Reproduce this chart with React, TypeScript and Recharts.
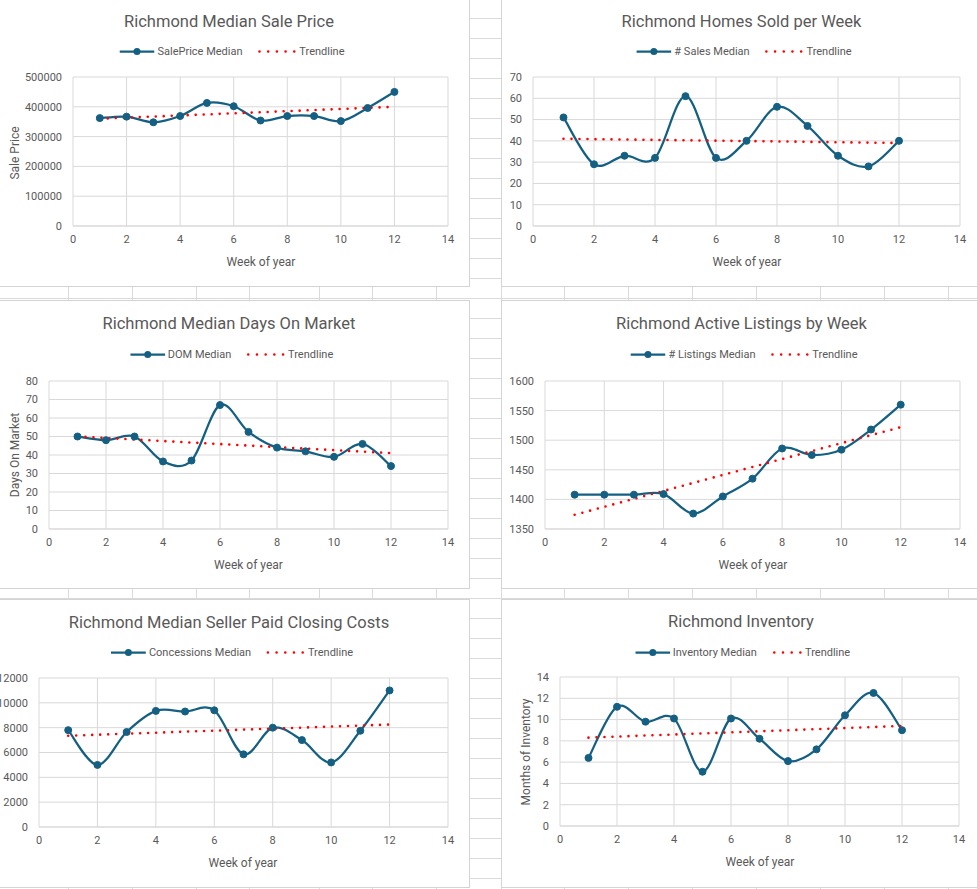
import React from 'react';
import { LineChart, Line, XAxis, YAxis, CartesianGrid } from 'recharts';

// week numbers shared by all six charts
const weeks = [1, 2, 3, 4, 5, 6, 7, 8, 9, 10, 11, 12];
const trendWeeks = [1, 12];
const weekTicks = [0, 2, 4, 6, 8, 10, 12, 14];

const salePrice = [362000, 367000, 348000, 369000, 413000, 402000, 354000, 369000, 369000, 352000, 396000, 450000];
const salePriceTrend = [360000, 400000];
const salePriceTicks = [0, 100000, 200000, 300000, 400000, 500000];

const salesCount = [51, 29, 33, 32, 61, 32, 40, 56, 47, 33, 28, 40];
const salesTrend = [41, 39];
const salesTicks = [0, 10, 20, 30, 40, 50, 60, 70];

const domMedian = [50, 48, 50, 36.5, 37, 67, 52.5, 44, 42, 39, 46, 34];
const domTrend = [50, 41];
const domTicks = [0, 10, 20, 30, 40, 50, 60, 70, 80];

const listings = [1408, 1408, 1408, 1409, 1376, 1405, 1435, 1486, 1475, 1484, 1518, 1560];
const listingsTrend = [1374, 1522];
const listingsTicks = [1350, 1400, 1450, 1500, 1550, 1600];

const concessions = [7800, 5000, 7650, 9350, 9300, 9400, 5850, 8000, 7000, 5200, 7750, 11000];
const concessionsTrend = [7350, 8250];
const concessionsTicks = [0, 2000, 4000, 6000, 8000, 10000, 12000];

const inventory = [6.4, 11.2, 9.8, 10.1, 5.1, 10.1, 8.2, 6.1, 7.2, 10.4, 12.5, 9.0];
const inventoryTrend = [8.3, 9.4];
const inventoryTicks = [0, 2, 4, 6, 8, 10, 12, 14];

const SERIES = '#156082';
const TREND = '#ff0000';
const GRID = '#d9d9d9';
const TEXT = '#595959';
const FONT = 'Roboto, "Noto Sans", sans-serif';

// spreadsheet column borders behind the charts
const sheetCols = [68, 132, 196, 249, 319, 372, 436, 501, 564, 628, 692, 756, 820, 884, 948];

// excel style smoothing (catmull-rom, control points at 1/6)
function excelSmooth(context: any) {
  let pts: number[][] = [];
  return {
    areaStart() {},
    areaEnd() {},
    lineStart() {
      pts = [];
    },
    point(x: number, y: number) {
      pts.push([+x, +y]);
    },
    lineEnd() {
      const n = pts.length;
      if (!n) return;
      context.moveTo(pts[0][0], pts[0][1]);
      for (let i = 0; i < n - 1; i++) {
        const p0 = pts[i - 1] || pts[i];
        const p1 = pts[i];
        const p2 = pts[i + 1];
        const p3 = pts[i + 2] || p2;
        context.bezierCurveTo(
          p1[0] + (p2[0] - p0[0]) / 6,
          p1[1] + (p2[1] - p0[1]) / 6,
          p2[0] - (p3[0] - p1[0]) / 6,
          p2[1] - (p3[1] - p1[1]) / 6,
          p2[0],
          p2[1]
        );
      }
    },
  };
}

type Box = { x: number; y: number; w: number; h: number };
type Plot = { l: number; t: number; r: number; b: number };

interface PanelProps {
  box: Box;
  plot: Plot;
  title: string;
  titleAt: [number, number];
  seriesName: string;
  legendAt: [number, number];
  legendDots?: number;
  xTitleAt: [number, number];
  yTitle?: string;
  yTitleAt?: [number, number];
  values: number[];
  trend: number[];
  yTicks: number[];
}

const X_H = 30;

function Legend({ name, at, dots = 5 }: { name: string; at: [number, number]; dots?: number }) {
  const dotsW = (dots - 1) * 8.7 + 6;
  return (
    <div
      style={{
        position: 'absolute',
        left: at[0],
        top: at[1],
        transform: 'translate(-50%, -50%)',
        display: 'flex',
        alignItems: 'center',
        whiteSpace: 'nowrap',
        fontSize: 11,
        color: TEXT,
        fontFamily: FONT,
      }}
    >
      <svg width={35} height={10}>
        <line x1={0} y1={5} x2={35} y2={5} stroke={SERIES} strokeWidth={2.25} />
        <circle cx={17.5} cy={5} r={3.5} fill={SERIES} />
      </svg>
      <span style={{ marginLeft: 3 }}>{name}</span>
      <svg width={dotsW} height={6} style={{ marginLeft: 14 }}>
        <line
          x1={3}
          y1={3}
          x2={dotsW - 2.5}
          y2={3}
          stroke={TREND}
          strokeWidth={2.6}
          strokeDasharray="0 8.7"
          strokeLinecap="round"
        />
      </svg>
      <span style={{ marginLeft: 2 }}>Trendline</span>
    </div>
  );
}

function Panel(props: PanelProps) {
  const { box, plot, values, trend, yTicks } = props;
  const ox = box.x + 1;
  const oy = box.y + 1;
  const cw = box.w - 2;
  const ch = box.h - 2;
  const yW = plot.l - ox;

  const table = weeks.map((w, i) => ({ week: w, value: values[i] }));
  const trendTable = trendWeeks.map((w, i) => ({ week: w, value: trend[i] }));

  const tick = { fontSize: 11, fill: TEXT, fontFamily: FONT };

  return (
    <>
      <div
        style={{
          position: 'absolute',
          left: box.x,
          top: box.y,
          width: box.w,
          height: box.h,
          boxSizing: 'border-box',
          border: '1px solid #d4d4d4',
          background: '#fff',
        }}
      >
        <LineChart
          width={cw}
          height={ch}
          data={table}
          margin={{ top: plot.t - oy, right: ox + cw - plot.r, bottom: ch - (plot.b - oy) - X_H, left: 0 }}
        >
          <CartesianGrid stroke={GRID} />
          <XAxis
            dataKey="week"
            type="number"
            domain={[0, 14]}
            ticks={weekTicks}
            interval={0}
            tickLine={false}
            tickSize={0}
            tickMargin={9}
            axisLine={{ stroke: GRID }}
            tick={tick}
            height={X_H}
          />
          <YAxis
            type="number"
            domain={[yTicks[0], yTicks[yTicks.length - 1]]}
            ticks={yTicks}
            interval={0}
            tickLine={false}
            tickSize={0}
            tickMargin={11}
            axisLine={false}
            tick={tick}
            width={yW}
          />
          <Line
            dataKey="value"
            type={excelSmooth as any}
            stroke={SERIES}
            strokeWidth={2.25}
            dot={{ r: 3.5, fill: SERIES, stroke: SERIES, strokeWidth: 1 }}
            activeDot={false}
            isAnimationActive={false}
          />
          <Line
            data={trendTable}
            dataKey="value"
            type="linear"
            stroke={TREND}
            strokeWidth={2.6}
            strokeDasharray="0 8"
            strokeLinecap="round"
            dot={false}
            activeDot={false}
            isAnimationActive={false}
          />
        </LineChart>
      </div>
      <div
        style={{
          position: 'absolute',
          left: props.titleAt[0],
          top: props.titleAt[1],
          transform: 'translate(-50%, -50%)',
          whiteSpace: 'nowrap',
          fontSize: 16.5,
          color: TEXT,
          fontFamily: FONT,
        }}
      >
        {props.title}
      </div>
      <Legend name={props.seriesName} at={props.legendAt} dots={props.legendDots} />
      <div
        style={{
          position: 'absolute',
          left: props.xTitleAt[0],
          top: props.xTitleAt[1],
          transform: 'translate(-50%, -50%)',
          whiteSpace: 'nowrap',
          fontSize: 12,
          color: TEXT,
          fontFamily: FONT,
        }}
      >
        Week of year
      </div>
      {props.yTitle && props.yTitleAt && (
        <div
          style={{
            position: 'absolute',
            left: props.yTitleAt[0],
            top: props.yTitleAt[1],
            transform: 'translate(-50%, -50%) rotate(-90deg)',
            whiteSpace: 'nowrap',
            fontSize: 12,
            color: TEXT,
            fontFamily: FONT,
          }}
        >
          {props.yTitle}
        </div>
      )}
    </>
  );
}

export default function App() {
  return (
    <div
      style={{
        position: 'absolute',
        left: 0,
        top: 0,
        width: 977,
        height: 889,
        overflow: 'hidden',
        background:
          'repeating-linear-gradient(to bottom, #fff 0px, #fff 18px, #dadada 18px, #dadada 19px, #fff 19px, #fff 20px)',
      }}
    >
      {sheetCols.map((x) => (
        <div key={x} style={{ position: 'absolute', left: x, top: 0, width: 1, height: 889, background: '#dadada' }} />
      ))}

      <Panel
        box={{ x: -5, y: -5, w: 475, h: 292 }}
        plot={{ l: 73, t: 77, r: 448, b: 226 }}
        title="Richmond Median Sale Price"
        titleAt={[229, 20.5]}
        seriesName="SalePrice Median"
        legendAt={[232, 51]}
        xTitleAt={[261, 262]}
        yTitle="Sale Price"
        yTitleAt={[14.5, 152.5]}
        values={salePrice}
        trend={salePriceTrend}
        yTicks={salePriceTicks}
      />
      <Panel
        box={{ x: 501, y: -5, w: 500, h: 292 }}
        plot={{ l: 533, t: 77, r: 960, b: 226 }}
        title="Richmond Homes Sold per Week"
        titleAt={[741.5, 20.5]}
        seriesName="# Sales Median"
        legendAt={[744, 51]}
        xTitleAt={[747, 262]}
        values={salesCount}
        trend={salesTrend}
        yTicks={salesTicks}
      />
      <Panel
        box={{ x: -5, y: 300, w: 475, h: 289 }}
        plot={{ l: 49, t: 381, r: 448, b: 529 }}
        title="Richmond Median Days On Market"
        titleAt={[229, 323]}
        seriesName="DOM Median"
        legendAt={[231.5, 354]}
        xTitleAt={[248.5, 565]}
        yTitle="Days On Market"
        yTitleAt={[14.5, 455]}
        values={domMedian}
        trend={domTrend}
        yTicks={domTicks}
      />
      <Panel
        box={{ x: 501, y: 300, w: 500, h: 289 }}
        plot={{ l: 545, t: 381, r: 960, b: 529 }}
        title="Richmond Active Listings by Week"
        titleAt={[741.5, 323]}
        seriesName="# Listings Median"
        legendAt={[744, 354]}
        xTitleAt={[753, 565]}
        values={listings}
        trend={listingsTrend}
        yTicks={listingsTicks}
      />
      <Panel
        box={{ x: -30, y: 599, w: 500, h: 289 }}
        plot={{ l: 39, t: 678, r: 448, b: 827 }}
        title="Richmond Median Seller Paid Closing Costs"
        titleAt={[229, 621.5]}
        seriesName="Concessions Median"
        legendAt={[232, 652]}
        xTitleAt={[243, 862.5]}
        values={concessions}
        trend={concessionsTrend}
        yTicks={concessionsTicks}
      />
      <Panel
        box={{ x: 501, y: 599, w: 500, h: 289 }}
        plot={{ l: 560, t: 677, r: 959, b: 826 }}
        title="Richmond Inventory"
        titleAt={[741, 620.5]}
        seriesName="Inventory Median"
        legendAt={[742.5, 652]}
        legendDots={4}
        xTitleAt={[760, 861.5]}
        yTitle="Months of Inventory"
        yTitleAt={[526, 751.5]}
        values={inventory}
        trend={inventoryTrend}
        yTicks={inventoryTicks}
      />
    </div>
  );
}
